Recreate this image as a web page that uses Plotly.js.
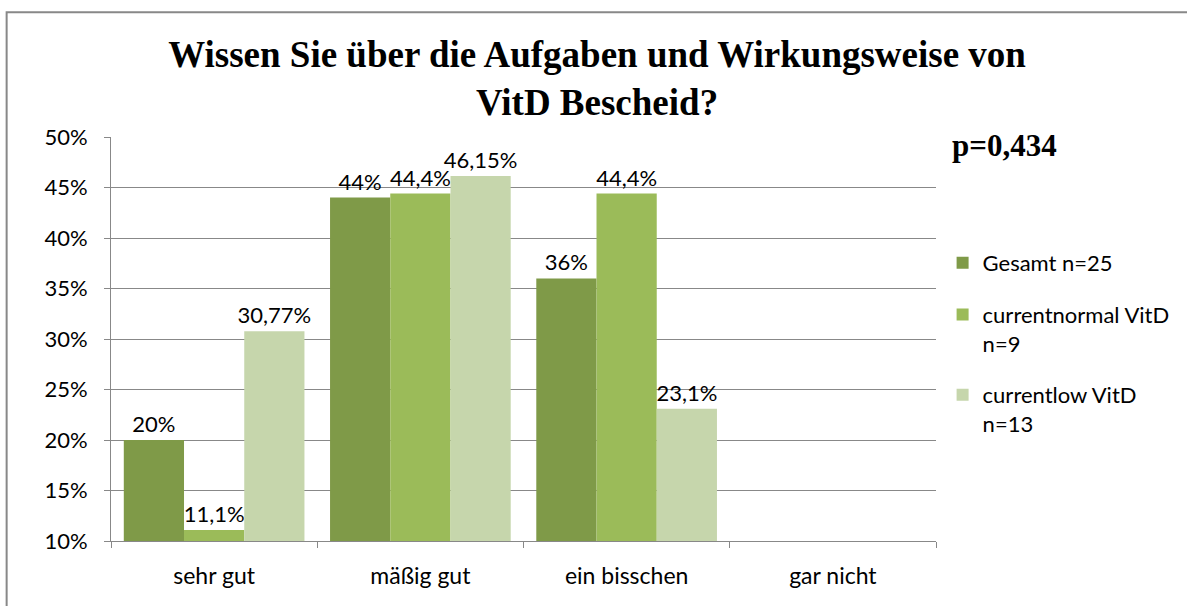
<!DOCTYPE html>
<html>
<head>
<meta charset="utf-8">
<script src="https://cdn.plot.ly/plotly-3.0.1.min.js"></script>
<style>html,body{margin:0;padding:0;background:#fff;}#chart{width:1187px;height:606px;}</style>
</head>
<body>
<div id="chart"></div>
<script>
const categories = ["sehr gut", "mäßig gut", "ein bisschen", "gar nicht"];
const seriesNames = ["Gesamt n=25", "currentnormal VitD<br>n=9", "currentlow VitD<br>n=13"];
const gesamt = [0.20, 0.44, 0.36, 0];
const currentNormal = [0.111, 0.444, 0.444, 0];
const currentLow = [0.3077, 0.4615, 0.231, 0];
const gesamtLabels = ["20%", "44%", "36%", ""];
const normalLabels = ["11,1%", "44,4%", "44,4%", ""];
const lowLabels = ["30,77%", "46,15%", "23,1%", ""];
const yTickVals = [0.10, 0.15, 0.20, 0.25, 0.30, 0.35, 0.40, 0.45, 0.50];
const yTickText = ["10%", "15%", "20%", "25%", "30%", "35%", "40%", "45%", "50%"];
const colors = ["#7F9A48", "#9BBB59", "#C6D6AC"];

const font = "Lato, 'Open Sans', sans-serif";
const vals = [gesamt, currentNormal, currentLow];
const labs = [gesamtLabels, normalLabels, lowLabels];
const traces = vals.map((v, i) => ({
  type: "bar",
  name: seriesNames[i],
  x: categories,
  y: v,
  text: labs[i],
  textposition: "outside",
  texttemplate: "%{text}",
  constraintext: "none",
  textfont: {family: font, size: 22, color: "#000"},
  cliponaxis: false,
  marker: {color: colors[i], line: {width: 0}},
  legendgroup: "g" + i,
  hoverinfo: "x+y"
}));

const layout = {
  width: 1187, height: 606,
  margin: {l: 111, r: 249, t: 137, b: 65},
  paper_bgcolor: "#fff", plot_bgcolor: "#fff",
  barmode: "group", bargap: 0.124, bargroupgap: 0,
  title: {
    text: "<b>Wissen Sie über die Aufgaben und Wirkungsweise von<br>VitD Bescheid?</b>",
    font: {family: "'Liberation Serif', 'Times New Roman', serif", size: 37, color: "#000"},
    x: 0.503, xanchor: "center", y: 0.8895, yanchor: "middle", yref: "container"
  },
  xaxis: {
    type: "category",
    showline: true, linecolor: "#888", linewidth: 1,
    ticks: "outside", tickson: "boundaries", ticklen: 6, tickcolor: "#888",
    tickfont: {family: font, size: 23, color: "#000"},
    ticklabelstandoff: 14,
    showgrid: false, zeroline: false
  },
  yaxis: {
    range: [0.1, 0.5],
    tickvals: yTickVals, ticktext: yTickText,
    showline: true, linecolor: "#888", linewidth: 1,
    ticks: "outside", ticklen: 6, tickcolor: "#888",
    ticklabelstandoff: 12,
    showgrid: true, gridcolor: "#888", gridwidth: 1,
    tickfont: {family: font, size: 22, color: "#000"},
    zeroline: false
  },
  legend: {
    x: 1.008, xanchor: "left", y: 0.74, yanchor: "top",
    valign: "top",
    font: {family: font, size: 22, color: "#000"},
    tracegroupgap: 20, itemwidth: 30, bgcolor: "rgba(0,0,0,0)"
  },
  showlegend: true,
  annotations: [{
    text: "<b>p=0,434</b>", xref: "paper", yref: "paper",
    x: 1.017, y: 0.98, xanchor: "left", yanchor: "middle", showarrow: false,
    font: {family: "'Liberation Serif', 'Times New Roman', serif", size: 31, color: "#000"}
  }],
  shapes: [{
    type: "rect", xref: "paper", yref: "paper",
    x0: -0.1265, x1: 1.5, y0: -0.3, y1: 1.309,
    line: {color: "#888", width: 2}, fillcolor: "rgba(0,0,0,0)", layer: "below"
  }]
};

Plotly.newPlot("chart", traces, layout, {displayModeBar: false, staticPlot: true});
</script>
</body>
</html>
